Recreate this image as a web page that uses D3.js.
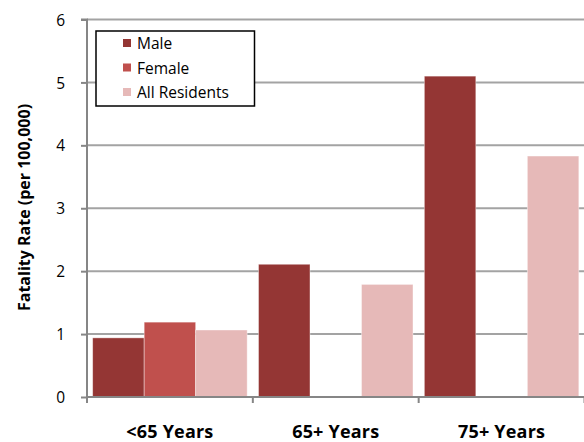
<!DOCTYPE html>
<html>
<head>
<meta charset="utf-8">
<script src="https://cdn.jsdelivr.net/npm/d3@7"></script>
<style>
  html, body { margin: 0; padding: 0; background: #fff; }
  svg { display: block; }
  text { font-family: "Open Sans", Lato, sans-serif; fill: #000; }
</style>
</head>
<body>
<svg id="chart" width="584" height="442"></svg>
<script>
const categories = ["<65 Years", "65+ Years", "75+ Years"];
const seriesNames = ["Male", "Female", "All Residents"];
const maleValues = [0.94, 2.11, 5.10];
const femaleValues = [1.19, null, null];
const allValues = [1.065, 1.79, 3.83];
const seriesColors = ["#943634", "#C0504D", "#E6B9B8"];
const yTicks = [0, 1, 2, 3, 4, 5, 6];
const yTitle = "Fatality Rate (per 100,000)";

(function () {
const seriesValues = [maleValues, femaleValues, allValues];
const svg = d3.select("#chart");
const FONT = "'Open Sans', Lato, sans-serif";

const pLeft = 87, pRight = 584.5, pTop = 19.5, pBottom = 397;

const x0 = d3.scaleBand().domain(categories).range([pLeft, pRight]).paddingInner(0).paddingOuter(0);
const x1 = d3.scaleBand().domain(seriesNames).range([0, x0.bandwidth()]).paddingInner(0).paddingOuter(0.11);
const y = d3.scaleLinear().domain([0, 6]).range([pBottom, pTop]);

// gridlines
svg.append("g").selectAll("line").data(yTicks.filter(d => d > 0)).join("line")
  .attr("x1", pLeft).attr("x2", 584)
  .attr("y1", d => y(d)).attr("y2", d => y(d))
  .attr("stroke", "#a3a3a3").attr("stroke-width", 2);

// bars
const groups = svg.append("g").selectAll("g").data(categories).join("g")
  .attr("transform", d => `translate(${x0(d)},0)`);
groups.selectAll("rect")
  .data((c, i) => seriesNames.map((s, j) => ({ s, v: seriesValues[j][i], color: seriesColors[j] })).filter(d => d.v != null))
  .join("rect")
  .attr("x", d => x1(d.s))
  .attr("width", x1.bandwidth())
  .attr("y", d => y(d.v))
  .attr("height", d => y(0) - y(d.v))
  .attr("fill", d => d.color)
  .attr("stroke", "#fff")
  .attr("stroke-opacity", 0.5)
  .attr("stroke-width", 0.8);

// y axis
const yAxis = d3.axisLeft(y).tickValues(yTicks).tickSize(6).tickPadding(16).tickFormat(d3.format("d"));
const yg = svg.append("g").attr("transform", `translate(${pLeft},0)`).call(yAxis);
yg.select(".domain").attr("stroke", "#868686").attr("stroke-width", 2).attr("d", `M-6,${pTop}H0V${pBottom}`);
yg.selectAll(".tick line").attr("stroke", "#868686").attr("stroke-width", 2);
yg.selectAll(".tick text").attr("font-size", 15.5).attr("font-family", FONT).attr("fill", "#000").attr("dy", "0.36em");

// x axis
const xBoundaries = categories.map(c => x0(c)).concat([x0(categories[categories.length - 1]) + x0.bandwidth()]);
svg.append("line").attr("x1", pLeft).attr("x2", 584).attr("y1", pBottom).attr("y2", pBottom)
  .attr("stroke", "#868686").attr("stroke-width", 2);
svg.append("g").selectAll("line").data(xBoundaries).join("line")
  .attr("x1", d => d).attr("x2", d => d).attr("y1", pBottom).attr("y2", pBottom + 6)
  .attr("stroke", "#868686").attr("stroke-width", 2);
svg.append("g").selectAll("text").data(categories).join("text")
  .attr("x", d => x0(d) + x0.bandwidth() / 2)
  .attr("y", 438)
  .attr("text-anchor", "middle")
  .attr("font-size", 18)
  .attr("font-weight", "bold")
  .attr("letter-spacing", 0.2)
  .text(d => d);

// y title
svg.append("text")
  .attr("transform", `translate(29.5,207.5) rotate(-90)`)
  .attr("text-anchor", "middle")
  .attr("font-size", 16)
  .attr("font-weight", "bold")
  .text(yTitle);

// legend
const lg = svg.append("g");
lg.append("rect").attr("x", 96).attr("y", 31).attr("width", 158.5).attr("height", 75)
  .attr("fill", "#fff").attr("stroke", "#000").attr("stroke-width", 1.5);
const items = lg.selectAll("g").data(seriesNames).join("g")
  .attr("transform", (d, i) => `translate(123,${43 + i * 24.5})`);
items.append("rect").attr("x", 0).attr("y", -4).attr("width", 8).attr("height", 8)
  .attr("fill", (d, i) => seriesColors[i]);
items.append("text").attr("x", 14).attr("y", 6).attr("font-size", 15.5).text(d => d);
})();
</script>
</body>
</html>
